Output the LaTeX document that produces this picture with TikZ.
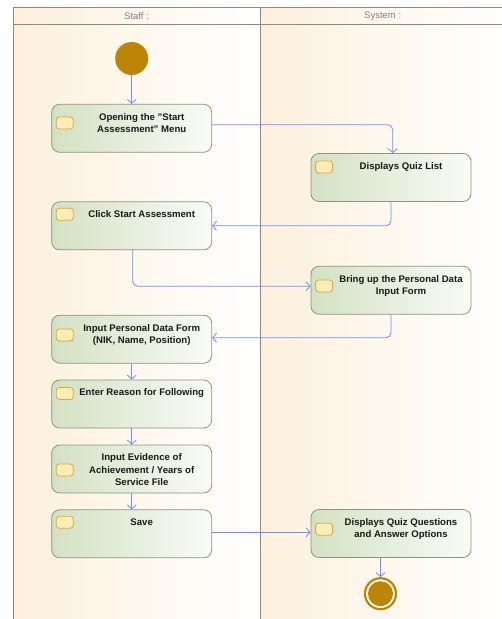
\documentclass[tikz,border=0pt]{standalone}
\usepackage{fontspec}
\setmainfont{Liberation Sans}
\usetikzlibrary{arrows.meta,calc}

\definecolor{laneorange}{HTML}{FDF0DD}
\definecolor{frameline}{HTML}{8E8882}
\definecolor{headtext}{HTML}{7F7F7F}
\definecolor{actleft}{HTML}{D3E1C3}
\definecolor{actright}{HTML}{F9FBF7}
\definecolor{actborder}{HTML}{8B9779}
\definecolor{flowblue}{HTML}{6E8EFF}
\definecolor{gold}{HTML}{BC8508}
\definecolor{iconfill}{HTML}{FFEDB5}
\definecolor{iconline}{HTML}{D7A845}

\tikzset{
  lanehead/.style={font=\fontsize{9.5}{11}\selectfont, text=headtext, inner sep=0},
  act/.style={rectangle, rounded corners=8pt, draw=actborder, line width=0.8pt,
    left color=actleft, right color=actright,
    minimum width=160pt, minimum height=48pt, inner sep=0},
  acttext/.style={anchor=north, align=center, inner sep=0, text=black!90,
    font=\fontsize{9.6}{12.5}\selectfont\bfseries},
  actionicon/.style={draw=iconline, fill=iconfill, line width=0.8pt, rounded corners=3pt},
  flow/.style={draw=flowblue, line width=0.85pt, rounded corners=5pt,
    -{Straight Barb[length=4pt,width=9pt,line width=0.8pt]}},
}

% action node: name, centre, label
\newcommand\actbox[3]{%
  \node[act] (#1) at (#2) {};
  \node[acttext] (#1t) at ($(#1.north)+(10,9.2)$) {#3};
  \draw[actionicon] ($(#1.west |- #1t.center)+(5,-6)$) rectangle ++(17,12);
}

\begin{document}
\begin{tikzpicture}[x=1pt,y=-1pt]
\useasboundingbox (0,0) rectangle (502,619);
\fill[white] (0,0) rectangle (502,619);

% swimlanes
\shade[left color=laneorange, right color=white] (13,7) rectangle (260,619);
\shade[left color=laneorange, right color=white] (260,7) rectangle (505,619);
\draw[frameline, line width=0.8pt] (13,619) -- (13,7) -- (505,7);
\draw[frameline, line width=0.8pt] (13,24.3) -- (505,24.3);
\draw[frameline, line width=0.8pt] (260,7) -- (260,619);
\node[lanehead] (staffhead) at (136.5,15.7) {Staff :};
\node[lanehead] (systemhead) at (382.7,15.7) {System :};

% initial and final nodes
\node[circle, fill=gold, minimum size=33pt, inner sep=0] (init) at (131.7,58.5) {};
\node[circle, draw=gold, line width=2.2pt, fill=white, minimum size=31pt, inner sep=0] (fin) at (380.5,593.7) {};
\fill[gold] (fin.center) circle (12.5pt);

% actions
\actbox{a1}{131.7,128.3}{Opening the "Start\\Assessment" Menu}
\actbox{b1}{391,177.5}{Displays Quiz List}
\actbox{a2}{131.7,225.8}{Click Start Assessment}
\actbox{b2}{391,290.2}{Bring up the Personal Data\\Input Form}
\actbox{a3}{131.7,339.2}{Input Personal Data Form\\(NIK, Name, Position)}
\actbox{a4}{131.7,404}{Enter Reason for Following}
\actbox{a5}{131.7,469}{Input Evidence of\\Achievement / Years of\\Service File}
\actbox{a6}{131.7,533.8}{Save}
\actbox{b3}{391,533.5}{Displays Quiz Questions\\and Answer Options}

% control flows
\draw[flow] (init) -- (a1);
\draw[flow] ([yshift=3.6pt]a1.east) -| ([xshift=1.7pt]b1.north);
\draw[flow] (b1.south) |- (a2.east);
\draw[flow] ([xshift=1pt]a2.south) |- ([yshift=4pt]b2.west);
\draw[flow] (b2.south) |- ([yshift=1.5pt]a3.east);
\draw[flow] (a3) -- (a4);
\draw[flow] (a4) -- (a5);
\draw[flow] (a5) -- (a6);
\draw[flow] ([yshift=1.5pt]a6.east) -- ([yshift=1.2pt]b3.west);
\draw[flow] (fin.north |- b3.south) -- (fin.north);
\end{tikzpicture}
\end{document}
